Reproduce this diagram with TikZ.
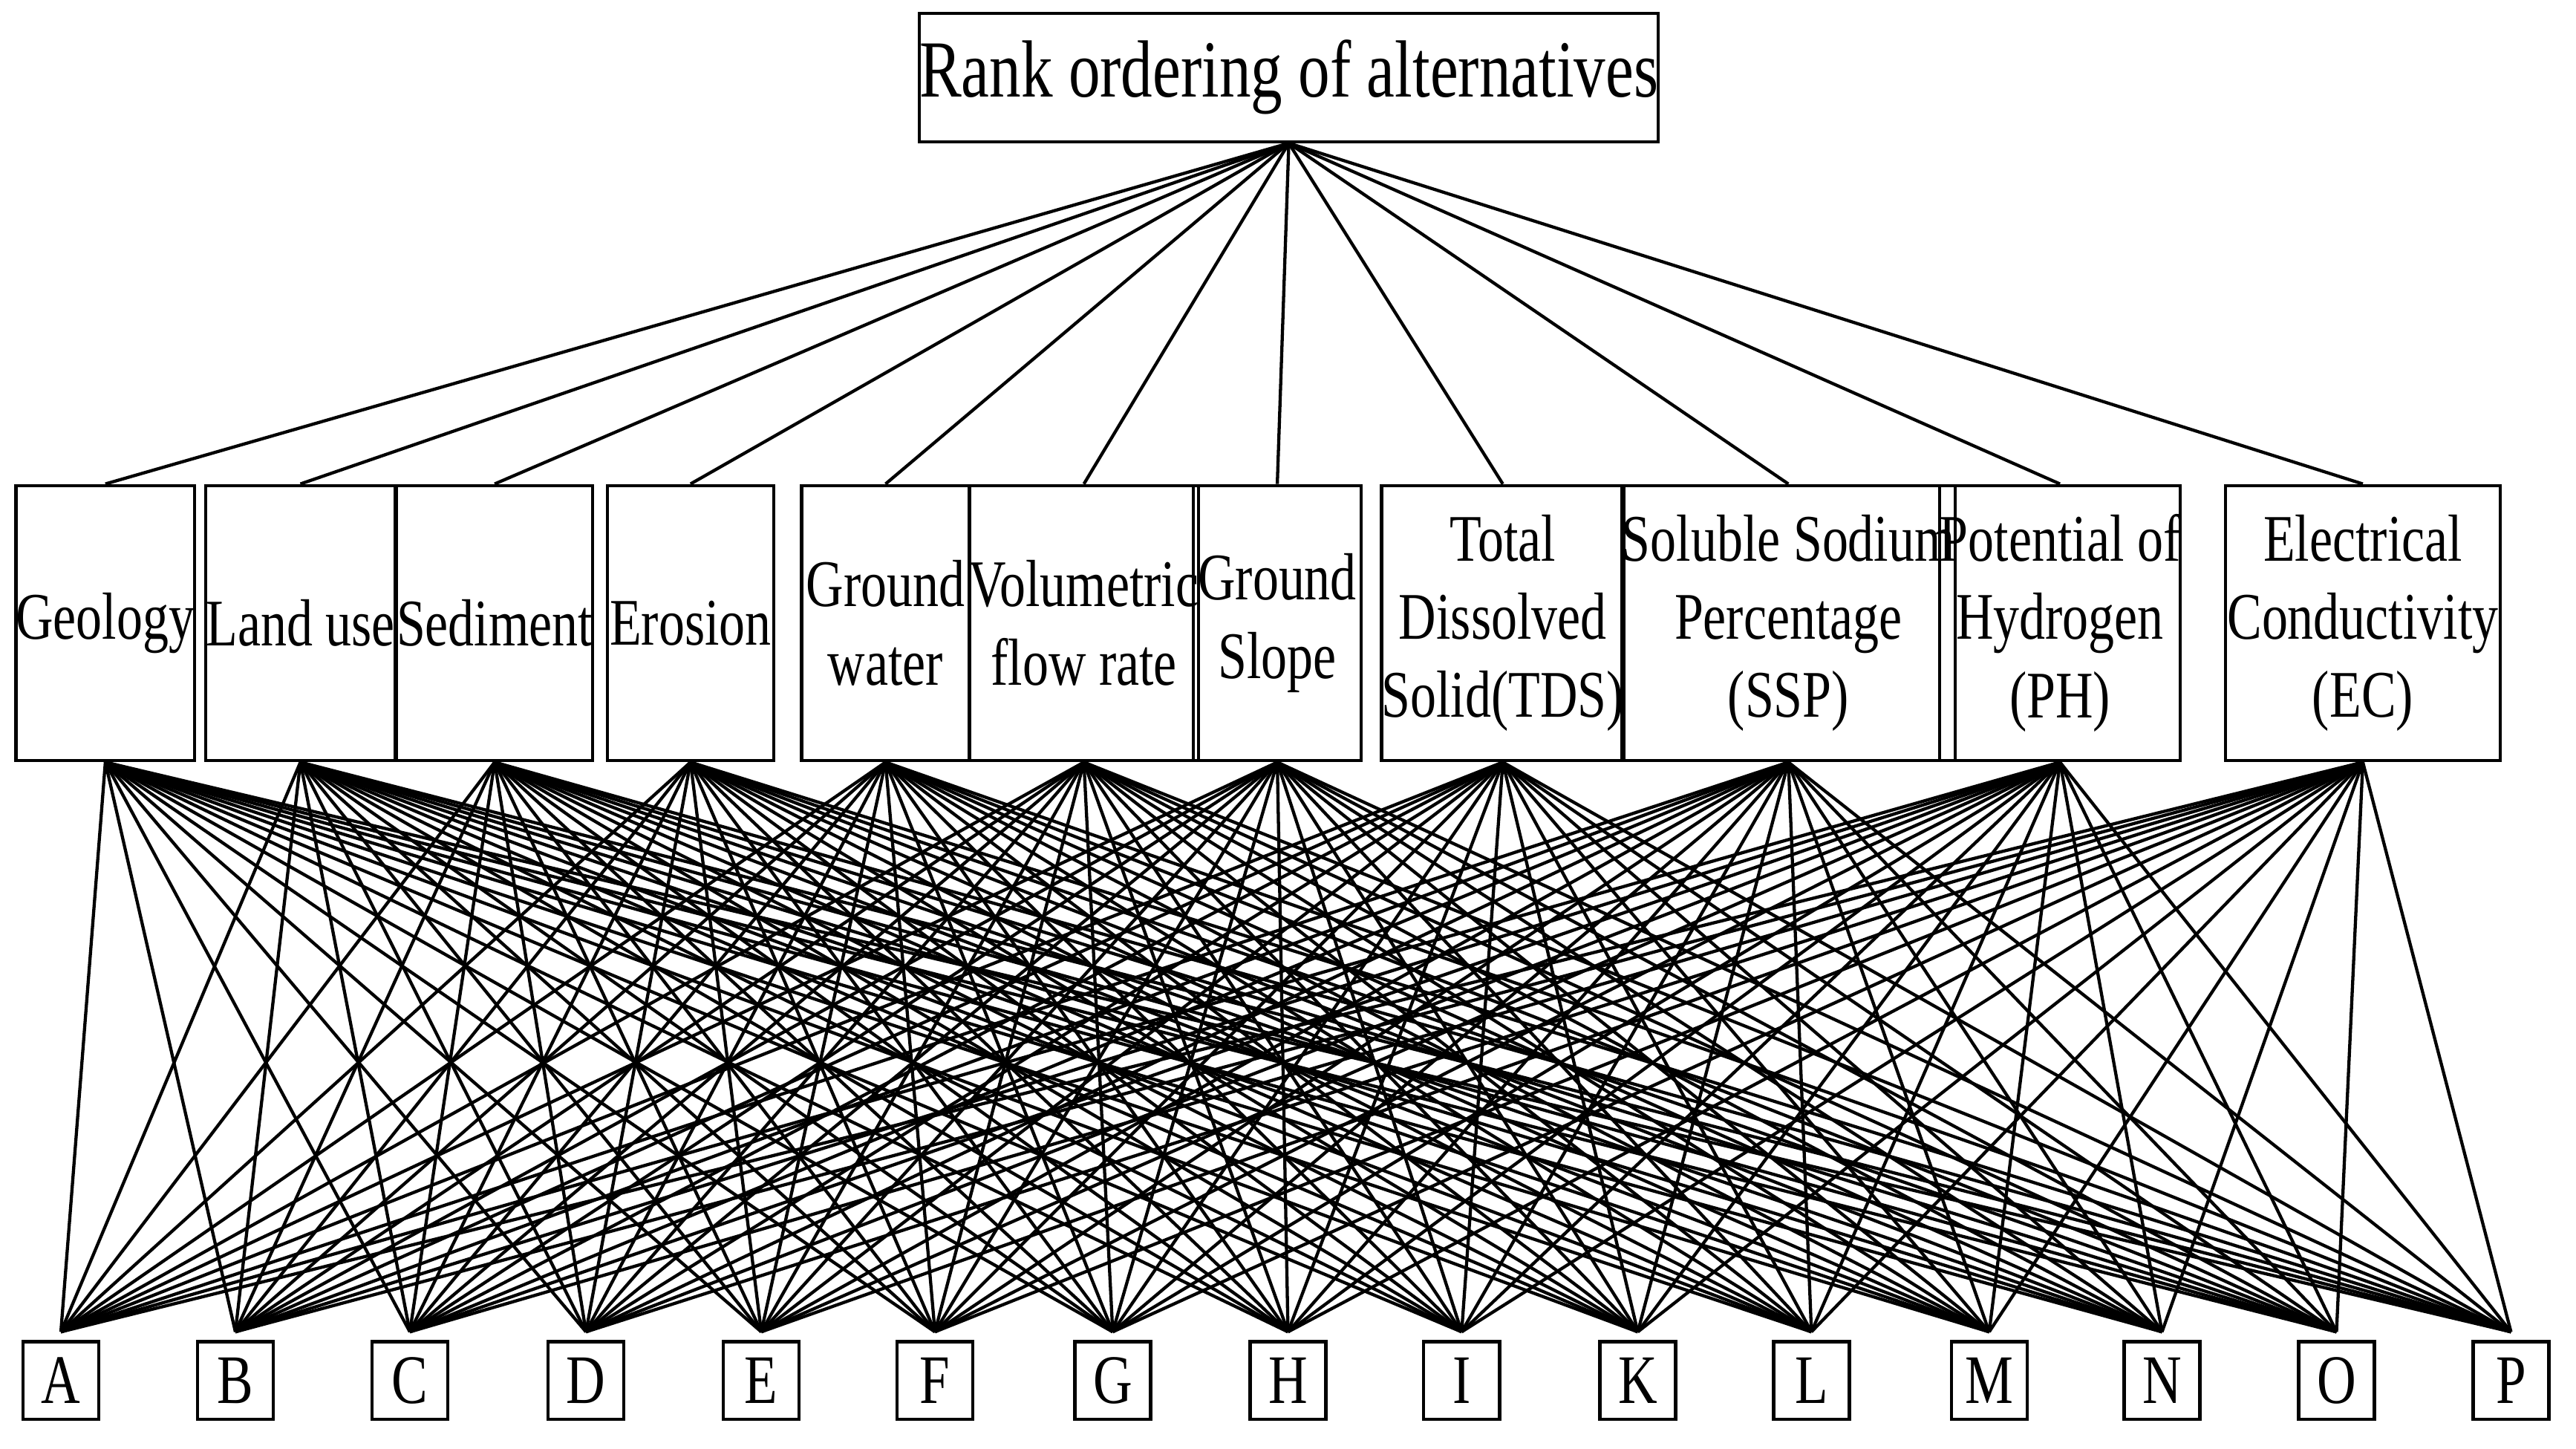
\documentclass[tikz,border=0pt]{standalone}
\usepackage{fontspec}
\setmainfont{Liberation Serif}
\newfontfamily\narrowfont{Liberation Serif}[FakeStretch=0.78]
\usepackage{tikz}
\usetikzlibrary{positioning}

\begin{document}
\begin{tikzpicture}[
        x=0.01cm, y=-0.01cm,
        every path/.style={line width=0.55pt},
        goal/.style={draw, minimum width=4.34cm, minimum height=0.78cm, inner sep=0pt, font=\narrowfont\fontsize{14}{16}\selectfont},
        crit/.style={draw, minimum height=1.67cm, inner sep=0pt, align=center, font=\narrowfont\fontsize{11.5}{13.5}\selectfont},
        alt/.style={draw, minimum width=0.46cm, minimum height=0.47cm, inner sep=0pt, font=\narrowfont\fontsize{12}{14}\selectfont}
    ]
        \useasboundingbox (0,0) rectangle (1565,880);
        \node[goal] (goal) at (783,47) {Rank ordering of alternatives};
        % criteria
        \foreach \i/\cx/\w/\txt in {1/64/102/{Geology}, 2/182.5/101/{Land use}, 3/300.5/103/{Sediment},
            4/419.5/101/{Erosion}, 5/538/102/{Ground\\water}, 6/658.5/121/{Volumetric\\flow rate},
            7/776/102/{Ground\\Slope}, 8/913/140/{Total\\Dissolved\\Solid(TDS)},
            9/1086.5/183/{Soluble Sodium\\Percentage\\(SSP)}, 10/1251.5/113/{Potential of\\Hydrogen\\(PH)},
            11/1435.5/167/{Electrical\\Conductivity\\(EC)}}
            \node[crit, minimum width=\w*0.01cm] (c\i) at (\cx,378.5) {\txt};
        % alternatives
        \foreach \j/\cx/\txt in {1/37/A, 2/143/B, 3/249/C, 4/356/D, 5/462.5/E, 6/568/F, 7/676/G, 8/782.5/H,
            9/888/I, 10/995/K, 11/1100.5/L, 12/1208.5/M, 13/1313.5/N, 14/1419.5/O, 15/1525.5/P}
            \node[alt] (a\j) at (\cx,838.5) {\txt};
        % connectors
        \foreach \i in {1,...,11} {
            \draw (goal.south) -- (c\i.north);
            \foreach \j in {1,...,15}
                \draw (c\i.south) -- ([yshift=0.05cm]a\j.north);
        }
    \end{tikzpicture}
\end{document}
